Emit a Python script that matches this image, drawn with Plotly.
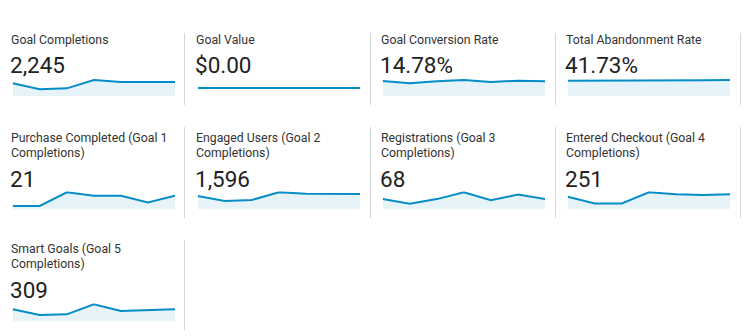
import plotly.graph_objects as go

W, H = 750, 336

# ---- data ----
titles = [
    ["Goal Completions"],
    ["Goal Value"],
    ["Goal Conversion Rate"],
    ["Total Abandonment Rate"],
    ["Purchase Completed (Goal 1", "Completions)"],
    ["Engaged Users (Goal 2", "Completions)"],
    ["Registrations (Goal 3", "Completions)"],
    ["Entered Checkout (Goal 4", "Completions)"],
    ["Smart Goals (Goal 5", "Completions)"],
]
totals = ["2,245", "$0.00", "14.78%", "41.73%", "21", "1,596", "68", "251", "309"]

goal_completions = [334, 176, 202, 422, 370, 371, 370]
goal_value = [0, 0, 0, 0, 0, 0, 0]
goal_conversion_rate = [15.0, 12.7, 14.7, 16.0, 14.0, 15.3, 14.7]
total_abandonment_rate = [40.3, 40.1, 40.5, 40.7, 41.0, 41.3, 42.0]
purchase_completed = [1, 1, 5, 4, 4, 2, 4]
engaged_users = [225, 140, 157, 287, 264, 264, 259]
registrations = [9, 5, 9, 15, 8, 13, 9]
entered_checkout = [37, 17, 17, 50, 44, 42, 44]
smart_goals = [49, 25, 28, 70, 42, 46, 49]

series = [goal_completions, goal_value, goal_conversion_rate, total_abandonment_rate,
          purchase_completed, engaged_users, registrations, entered_checkout, smart_goals]
days = list(range(7))

# ---- layout helpers (pixel positions) ----
def px(x):
    return x / W

def py(y):
    return 1 - y / H

col_off = [0, 185, 370, 555]
# per row: title line centers, value center, spark top, spark bottom
rows = [
    dict(title=[40.0], value=65.3, top=80.0, bot=96.0),
    dict(title=[138.3, 153.3], value=178.7, top=192.3, bot=209.3),
    dict(title=[249.0, 264.0], value=290.0, top=304.3, bot=321.0),
]

LINE = "#058dc7"
FILL = "rgba(5,141,199,0.10)"
FONT = "Roboto"

fig = go.Figure()
annotations = []
layout_axes = {}

for i, (t, tot, vals) in enumerate(zip(titles, totals, series)):
    r, c = divmod(i, 4)
    row = rows[r]
    x0 = col_off[c]
    lines = row["title"][-len(t):]
    for line_text, yc in zip(t, lines):
        annotations.append(dict(text=line_text, x=px(x0 + 9), y=py(yc), xref="paper", yref="paper",
                                xanchor="left", yanchor="middle", showarrow=False,
                                font=dict(family=FONT, size=12.3, color="#333333")))
    annotations.append(dict(text=tot, x=px(x0 + 8), y=py(row["value"]), xref="paper", yref="paper",
                            xanchor="left", yanchor="middle", showarrow=False,
                            font=dict(family=FONT, size=22.5, color="#222222")))
    k = i + 1
    xa = "x" if k == 1 else f"x{k}"
    ya = "y" if k == 1 else f"y{k}"
    fig.add_trace(go.Scatter(x=days, y=vals, mode="lines", xaxis=xa, yaxis=ya,
                             line=dict(color=LINE, width=2), fill="tozeroy", fillcolor=FILL,
                             hoverinfo="skip", showlegend=False))
    top, bot = row["top"], row["bot"]
    hpx = bot - top
    vmax = max(vals)
    if vmax == 0:
        yr = [-1, 1]
        dtop = top
    else:
        yr = [0, vmax * (hpx + 1) / hpx]
        dtop = top - 1
    xname = "xaxis" if k == 1 else f"xaxis{k}"
    yname = "yaxis" if k == 1 else f"yaxis{k}"
    layout_axes[xname] = dict(domain=[px(x0 + 12.7), px(x0 + 175)], range=[0, 6], visible=False,
                              anchor=ya, fixedrange=True)
    layout_axes[yname] = dict(domain=[py(bot), py(dtop)], range=yr, visible=False,
                              anchor=xa, fixedrange=True)

# separators
shapes = []
seps = [
    (184.5, 33, 105), (370.5, 33, 105), (555.5, 33, 105), (740.5, 33, 105),
    (184.5, 127, 218), (370.5, 127, 218), (555.5, 127, 218), (740.5, 127, 218),
    (184.5, 240, 330),
]
for x, y0, y1 in seps:
    shapes.append(dict(type="line", xref="paper", yref="paper", x0=px(x), x1=px(x),
                       y0=py(y0), y1=py(y1), line=dict(color="#d6d6d6", width=1)))

fig.update_layout(width=W, height=H, margin=dict(l=0, r=0, t=0, b=0),
                  paper_bgcolor="white", plot_bgcolor="rgba(0,0,0,0)",
                  annotations=annotations, shapes=shapes, showlegend=False,
                  **layout_axes)

fig.write_html("out.html", config={"displayModeBar": False})
